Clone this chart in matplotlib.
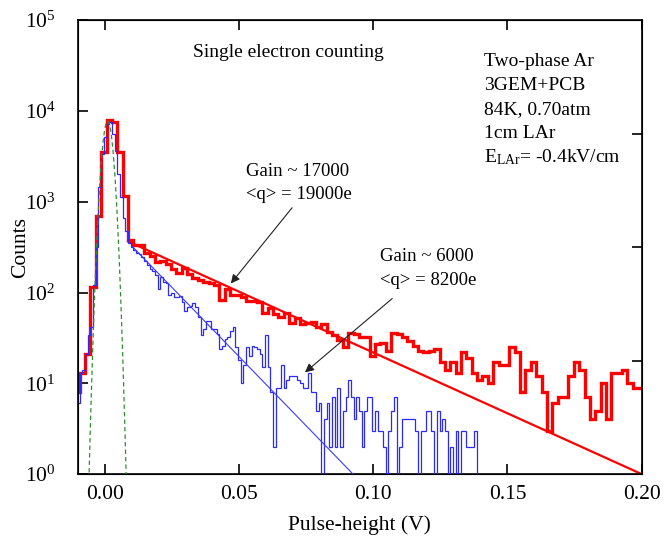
import numpy as np
import matplotlib
matplotlib.use("Agg")
import matplotlib.pyplot as plt
import matplotlib.ticker as ticker

plt.rcParams['font.family'] = ['Liberation Serif', 'DejaVu Serif']
plt.rcParams['mathtext.fontset'] = 'custom'
plt.rcParams['mathtext.rm'] = 'Liberation Serif'
plt.rcParams['mathtext.it'] = 'Liberation Serif:italic'

# red histogram: 3GEM+PCB, gain ~17000 (bins of 2 mV)
red_start = -0.0113
red_width = 0.002
red_counts = [8, 13, 21, 114, 700, 3500, 7900, 7600, 3500, 1170,
              380, 330, 330, 270, 250, 215, 225, 205, 180, 165,
              185, 160, 145, 138, 132, 129, 120, 83, 110, 93,
              95, 89, 81, 81, 79, 60, 68, 58, 54, 60,
              46, 52, 45, 46, 47, 42, 45, 37, 34, 30,
              25, 36, 35, 32, 32, 20, 27, 28, 23, 36,
              35, 32, 29, 26, 23, 22, 23, 24, 17, 14,
              17, 13, 22, 19, 13, 11, 12, 10, 17, 16,
              16, 25, 22, 8, 14, 17, 12, 8, 3, 6,
              7, 7, 12, 17, 14, 7, 4, 5, 10, 4,
              13, 13, 14, 10, 9, 9]

# blue histogram: gain ~6000 (bins of 1 mV)
blue_start = -0.0103
blue_width = 0.001
blue_counts = [6, 13, 14, 21, 34, 42, 120, 315, 1440, 3400,
               5200, 7200, 7600, 5600, 3600, 2000, 1120, 660, 480, 355,
               316, 295, 275, 263, 245, 224, 200, 182, 174, 155,
               110, 148, 132, 126, 93, 100, 89, 89, 91, 78,
               63, 69, 72, 76, 69, 54, 34, 40, 49, 48,
               40, 40, 35, 24, 26, 31, 32, 38, 42, 25,
               18, 10, 16, 25, 20, 26, 25, 24, 21, 15,
               34, 15, 8, 2, 9, 9, 16, 9, 11, 12,
               12, 12, 11, 10, 9, 9, 13, 8, 8, 5,
               6, 0, 4, 6, 2, 7, 2, 9, 2, 5,
               7, 11, 7, 4, 7, 5, 2, 5, 7, 7,
               3, 5, 3, 3, 2, 0, 3, 5, 7, 0,
               2, 4, 4, 4, 4, 4, 3, 0, 3, 3,
               5, 5, 3, 0, 5, 3, 4, 3, 0, 2,
               0, 3, 0, 3, 3, 2, 2, 2, 3, 0]

# pedestal (noise) gaussian
ped_x = [-0.0060, -0.0055, -0.0050, -0.0045, -0.0040, -0.0035, -0.0030, -0.0025,
         -0.0020, -0.0015, -0.0010, -0.0005, 0.0000, 0.0005, 0.0010, 0.0015,
         0.0020, 0.0025, 0.0030, 0.0035, 0.0040, 0.0045, 0.0050, 0.0055,
         0.0060, 0.0065, 0.0070, 0.0075, 0.0080, 0.0085]
ped_y = [0.59, 2.15, 7.1, 21, 58, 145, 330, 681,
         1280, 2185, 3400, 4820, 6210, 7290, 7785, 7570,
         6700, 5395, 3955, 2640, 1600, 886, 446, 204,
         85, 32, 11.1, 3.5, 1.0, 0.26]

# exponential fits (straight on log scale)
red_fit_x = [0.0087, 0.200]
red_fit_y = [366, 1.0]
blue_fit_x = [0.0104, 0.0925]
blue_fit_y = [319, 1.0]

xticks = [0.00, 0.05, 0.10, 0.15, 0.20]
xticklabels = ['0.00', '0.05', '0.10', '0.15', '0.20']

fig = plt.figure(figsize=(6.65, 5.45), dpi=100)
ax = fig.add_axes([0.117, 0.130, 0.848, 0.833])

red_edges = red_start + red_width * np.arange(len(red_counts) + 1)
blue_edges = blue_start + blue_width * np.arange(len(blue_counts) + 1)
red_vals = np.array(red_counts, dtype=float)
blue_vals = np.array(blue_counts, dtype=float)
blue_vals[blue_vals <= 0] = 0.01  # empty bins drop below the axis

ax.stairs(red_vals, red_edges, baseline=None, color='#ff0000', lw=2.4, zorder=2)
ax.plot(red_fit_x, red_fit_y, color='#ff0000', lw=1.6, zorder=2)
ax.stairs(blue_vals, blue_edges, baseline=None, color='#2a2aff', lw=0.9, zorder=3)
ax.plot(blue_fit_x, blue_fit_y, color='#3a3aff', lw=0.8, zorder=3)
ax.plot(ped_x, ped_y, color='#2f8f2f', lw=0.9, ls=(0, (3.5, 2.5)), zorder=4)

ax.set_yscale('log')
ax.set_xlim(-0.01, 0.20)
ax.set_ylim(1, 1e5)
ax.set_xticks(xticks)
ax.set_xticklabels(xticklabels)
ax.yaxis.set_major_locator(ticker.LogLocator(base=10, numticks=10))
ax.yaxis.set_minor_locator(ticker.NullLocator())
ax.yaxis.set_major_formatter(ticker.LogFormatterMathtext())
ax.tick_params(axis='both', which='major', direction='in', length=7, width=1.2,
               top=True, right=False, colors='black')
ax.tick_params(axis='x', labelsize=15.5, pad=8)
ax.tick_params(axis='y', labelsize=15.5, pad=16)
for sp in ax.spines.values():
    sp.set_linewidth(1.2)

# right-hand ticks (plain divisions of the frame)
ax2 = ax.twinx()
ax2.set_ylim(0, 4)
ax2.set_yticks([1, 2, 3])
ax2.tick_params(axis='y', direction='in', length=7, width=1.2, labelright=False)

ax.set_xlabel('Pulse-height (V)', fontsize=15.5, labelpad=8)
ax.set_ylabel('Counts', fontsize=15.5)
ax.yaxis.set_label_coords(-0.085, 0.5)

ax.text(0.204, 0.9295, 'Single electron counting', transform=ax.transAxes,
        fontsize=14, va='center', ha='left')
info = ['Two-phase Ar', '3GEM+PCB', '84K, 0.70atm', '1cm LAr',
        r'$\mathrm{E_{LAr}}$= -0.4kV/cm']
info_y = [0.910, 0.857, 0.804, 0.751, 0.698]
for s, yy in zip(info, info_y):
    ax.text(0.72, yy, s, transform=ax.transAxes, fontsize=14, va='center', ha='left')

ax.text(0.298, 0.667, 'Gain ~ 17000', transform=ax.transAxes, fontsize=13.5, va='center')
ax.text(0.298, 0.615, '<q> = 19000e', transform=ax.transAxes, fontsize=13.5, va='center')
ax.text(0.535, 0.480, 'Gain ~ 6000', transform=ax.transAxes, fontsize=13.5, va='center')
ax.text(0.535, 0.427, '<q> = 8200e', transform=ax.transAxes, fontsize=13.5, va='center')

arrow = dict(arrowstyle='-|>', color='#222222', lw=0.8, mutation_scale=13,
             shrinkA=0, shrinkB=0)
ax.annotate('', xy=(0.0470, 126), xytext=(0.0698, 859), arrowprops=arrow, zorder=5)
ax.annotate('', xy=(0.0746, 13.2), xytext=(0.1071, 86), arrowprops=arrow, zorder=5)

fig.savefig('out.png', dpi=100)
